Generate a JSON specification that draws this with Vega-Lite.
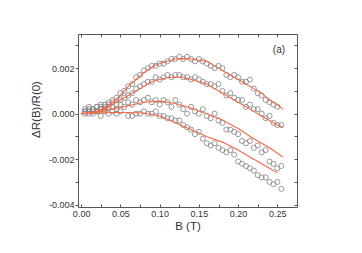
{
  "$schema": "https://vega.github.io/schema/vega-lite/v6.json",
  "width": 219,
  "height": 173,
  "autosize": "none",
  "padding": {"left": 78, "top": 34, "right": 65, "bottom": 46},
  "background": "white",
  "config": {
    "view": {"stroke": "#555", "strokeWidth": 1},
    "font": "Liberation Sans",
    "axis": {"grid": false, "domain": false, "labelFont": "Liberation Sans", "titleFont": "Liberation Sans", "labelColor": "#333", "titleColor": "#333", "tickColor": "#555", "labelFontSize": 9, "titleFontSize": 11.5, "titleFontWeight": "normal"}
  },
  "datasets": {
    "fit": [
      {"B": 0, "dR": 0, "s": "a"}, {"B": 0.01, "dR": 0.00003, "s": "a"}, {"B": 0.02, "dR": 0.0001, "s": "a"}, {"B": 0.03, "dR": 0.00025, "s": "a"}, {"B": 0.04, "dR": 0.0005, "s": "a"}, {"B": 0.05, "dR": 0.0008, "s": "a"}, {"B": 0.06, "dR": 0.0012, "s": "a"}, {"B": 0.07, "dR": 0.0015, "s": "a"}, {"B": 0.08, "dR": 0.0018, "s": "a"}, {"B": 0.09, "dR": 0.00205, "s": "a"}, {"B": 0.1, "dR": 0.0022, "s": "a"}, {"B": 0.11, "dR": 0.0023, "s": "a"}, {"B": 0.12, "dR": 0.0024, "s": "a"}, {"B": 0.13, "dR": 0.00242, "s": "a"}, {"B": 0.14, "dR": 0.0024, "s": "a"}, {"B": 0.15, "dR": 0.00235, "s": "a"}, {"B": 0.16, "dR": 0.0023, "s": "a"}, {"B": 0.17, "dR": 0.0021, "s": "a"}, {"B": 0.18, "dR": 0.0019, "s": "a"}, {"B": 0.19, "dR": 0.0017, "s": "a"}, {"B": 0.2, "dR": 0.0015, "s": "a"}, {"B": 0.21, "dR": 0.0013, "s": "a"}, {"B": 0.22, "dR": 0.0011, "s": "a"}, {"B": 0.23, "dR": 0.0009, "s": "a"}, {"B": 0.24, "dR": 0.0006, "s": "a"}, {"B": 0.25, "dR": 0.0004, "s": "a"}, {"B": 0.257, "dR": 0.0002, "s": "a"},
      {"B": 0, "dR": 0, "s": "b"}, {"B": 0.01, "dR": 0.00002, "s": "b"}, {"B": 0.02, "dR": 0.0001, "s": "b"}, {"B": 0.03, "dR": 0.0002, "s": "b"}, {"B": 0.04, "dR": 0.0004, "s": "b"}, {"B": 0.05, "dR": 0.0006, "s": "b"}, {"B": 0.06, "dR": 0.0008, "s": "b"}, {"B": 0.07, "dR": 0.001, "s": "b"}, {"B": 0.08, "dR": 0.0012, "s": "b"}, {"B": 0.09, "dR": 0.0014, "s": "b"}, {"B": 0.1, "dR": 0.0015, "s": "b"}, {"B": 0.11, "dR": 0.00158, "s": "b"}, {"B": 0.12, "dR": 0.0016, "s": "b"}, {"B": 0.13, "dR": 0.0016, "s": "b"}, {"B": 0.14, "dR": 0.0015, "s": "b"}, {"B": 0.15, "dR": 0.0014, "s": "b"}, {"B": 0.16, "dR": 0.0013, "s": "b"}, {"B": 0.17, "dR": 0.0011, "s": "b"}, {"B": 0.18, "dR": 0.0009, "s": "b"}, {"B": 0.19, "dR": 0.0007, "s": "b"}, {"B": 0.2, "dR": 0.0005, "s": "b"}, {"B": 0.21, "dR": 0.0003, "s": "b"}, {"B": 0.22, "dR": 0.0001, "s": "b"}, {"B": 0.23, "dR": -0.0001, "s": "b"}, {"B": 0.24, "dR": -0.0003, "s": "b"}, {"B": 0.25, "dR": -0.0005, "s": "b"}, {"B": 0.257, "dR": -0.0006, "s": "b"},
      {"B": 0, "dR": 0, "s": "c"}, {"B": 0.02, "dR": 0.00005, "s": "c"}, {"B": 0.04, "dR": 0.0002, "s": "c"}, {"B": 0.06, "dR": 0.00035, "s": "c"}, {"B": 0.08, "dR": 0.0005, "s": "c"}, {"B": 0.1, "dR": 0.00055, "s": "c"}, {"B": 0.12, "dR": 0.00045, "s": "c"}, {"B": 0.14, "dR": 0.00025, "s": "c"}, {"B": 0.16, "dR": 0.0, "s": "c"}, {"B": 0.18, "dR": -0.00028, "s": "c"}, {"B": 0.2, "dR": -0.00065, "s": "c"}, {"B": 0.22, "dR": -0.0011, "s": "c"}, {"B": 0.24, "dR": -0.0015, "s": "c"}, {"B": 0.257, "dR": -0.0019, "s": "c"},
      {"B": 0, "dR": 0, "s": "d"}, {"B": 0.02, "dR": 0.00003, "s": "d"}, {"B": 0.04, "dR": 0.00005, "s": "d"}, {"B": 0.06, "dR": 0.00005, "s": "d"}, {"B": 0.08, "dR": 0.00003, "s": "d"}, {"B": 0.1, "dR": -0.0001, "s": "d"}, {"B": 0.12, "dR": -0.0004, "s": "d"}, {"B": 0.14, "dR": -0.0007, "s": "d"}, {"B": 0.16, "dR": -0.001, "s": "d"}, {"B": 0.18, "dR": -0.00125, "s": "d"}, {"B": 0.2, "dR": -0.0016, "s": "d"}, {"B": 0.22, "dR": -0.002, "s": "d"}, {"B": 0.24, "dR": -0.0024, "s": "d"}, {"B": 0.25, "dR": -0.0026, "s": "d"}
    ],
    "pts": [
      {"B": 0.005, "dR": 0.0002, "s": "a"}, {"B": 0.01, "dR": 0.0003, "s": "a"}, {"B": 0.015, "dR": 0.0002, "s": "a"}, {"B": 0.02, "dR": 0.0003, "s": "a"}, {"B": 0.025, "dR": 0.0004, "s": "a"}, {"B": 0.03, "dR": 0.0003, "s": "a"}, {"B": 0.035, "dR": 0.0005, "s": "a"}, {"B": 0.04, "dR": 0.0006, "s": "a"}, {"B": 0.045, "dR": 0.0007, "s": "a"}, {"B": 0.05, "dR": 0.0009, "s": "a"}, {"B": 0.055, "dR": 0.001, "s": "a"}, {"B": 0.06, "dR": 0.0012, "s": "a"}, {"B": 0.065, "dR": 0.0013, "s": "a"}, {"B": 0.07, "dR": 0.0016, "s": "a"}, {"B": 0.075, "dR": 0.0017, "s": "a"}, {"B": 0.08, "dR": 0.0019, "s": "a"}, {"B": 0.085, "dR": 0.002, "s": "a"}, {"B": 0.09, "dR": 0.0021, "s": "a"}, {"B": 0.095, "dR": 0.0021, "s": "a"}, {"B": 0.1, "dR": 0.0022, "s": "a"}, {"B": 0.105, "dR": 0.0022, "s": "a"}, {"B": 0.11, "dR": 0.0023, "s": "a"}, {"B": 0.115, "dR": 0.0024, "s": "a"}, {"B": 0.12, "dR": 0.0024, "s": "a"}, {"B": 0.125, "dR": 0.0025, "s": "a"}, {"B": 0.13, "dR": 0.0024, "s": "a"}, {"B": 0.135, "dR": 0.0025, "s": "a"}, {"B": 0.14, "dR": 0.0024, "s": "a"}, {"B": 0.145, "dR": 0.0023, "s": "a"}, {"B": 0.15, "dR": 0.0024, "s": "a"}, {"B": 0.155, "dR": 0.0023, "s": "a"}, {"B": 0.16, "dR": 0.0022, "s": "a"}, {"B": 0.165, "dR": 0.0021, "s": "a"}, {"B": 0.17, "dR": 0.002, "s": "a"}, {"B": 0.175, "dR": 0.0021, "s": "a"}, {"B": 0.18, "dR": 0.002, "s": "a"}, {"B": 0.185, "dR": 0.0017, "s": "a"}, {"B": 0.19, "dR": 0.0016, "s": "a"}, {"B": 0.195, "dR": 0.0017, "s": "a"}, {"B": 0.2, "dR": 0.0016, "s": "a"}, {"B": 0.205, "dR": 0.0014, "s": "a"}, {"B": 0.21, "dR": 0.0014, "s": "a"}, {"B": 0.215, "dR": 0.0015, "s": "a"}, {"B": 0.22, "dR": 0.0011, "s": "a"}, {"B": 0.225, "dR": 0.0009, "s": "a"}, {"B": 0.23, "dR": 0.0008, "s": "a"}, {"B": 0.235, "dR": 0.0006, "s": "a"}, {"B": 0.24, "dR": 0.0005, "s": "a"}, {"B": 0.245, "dR": 0.0004, "s": "a"}, {"B": 0.25, "dR": 0.0003, "s": "a"},
      {"B": 0.005, "dR": 0.0001, "s": "b"}, {"B": 0.01, "dR": 0.0002, "s": "b"}, {"B": 0.015, "dR": 0.0001, "s": "b"}, {"B": 0.02, "dR": 0.0003, "s": "b"}, {"B": 0.025, "dR": 0.0002, "s": "b"}, {"B": 0.03, "dR": 0.0004, "s": "b"}, {"B": 0.035, "dR": 0.0003, "s": "b"}, {"B": 0.04, "dR": 0.0005, "s": "b"}, {"B": 0.045, "dR": 0.0004, "s": "b"}, {"B": 0.05, "dR": 0.0006, "s": "b"}, {"B": 0.055, "dR": 0.0007, "s": "b"}, {"B": 0.06, "dR": 0.0008, "s": "b"}, {"B": 0.065, "dR": 0.0009, "s": "b"}, {"B": 0.07, "dR": 0.0011, "s": "b"}, {"B": 0.075, "dR": 0.0012, "s": "b"}, {"B": 0.08, "dR": 0.0013, "s": "b"}, {"B": 0.085, "dR": 0.0014, "s": "b"}, {"B": 0.09, "dR": 0.0014, "s": "b"}, {"B": 0.095, "dR": 0.0016, "s": "b"}, {"B": 0.1, "dR": 0.0015, "s": "b"}, {"B": 0.105, "dR": 0.0016, "s": "b"}, {"B": 0.11, "dR": 0.0017, "s": "b"}, {"B": 0.115, "dR": 0.0016, "s": "b"}, {"B": 0.12, "dR": 0.0017, "s": "b"}, {"B": 0.125, "dR": 0.0017, "s": "b"}, {"B": 0.13, "dR": 0.0016, "s": "b"}, {"B": 0.135, "dR": 0.0016, "s": "b"}, {"B": 0.14, "dR": 0.0015, "s": "b"}, {"B": 0.145, "dR": 0.0016, "s": "b"}, {"B": 0.15, "dR": 0.0015, "s": "b"}, {"B": 0.155, "dR": 0.0014, "s": "b"}, {"B": 0.16, "dR": 0.0013, "s": "b"}, {"B": 0.165, "dR": 0.0013, "s": "b"}, {"B": 0.17, "dR": 0.0012, "s": "b"}, {"B": 0.175, "dR": 0.0013, "s": "b"}, {"B": 0.18, "dR": 0.001, "s": "b"}, {"B": 0.185, "dR": 0.0008, "s": "b"}, {"B": 0.19, "dR": 0.0009, "s": "b"}, {"B": 0.195, "dR": 0.0007, "s": "b"}, {"B": 0.2, "dR": 0.0006, "s": "b"}, {"B": 0.205, "dR": 0.0006, "s": "b"}, {"B": 0.21, "dR": 0.0003, "s": "b"}, {"B": 0.215, "dR": 0.0004, "s": "b"}, {"B": 0.22, "dR": 0.0002, "s": "b"}, {"B": 0.225, "dR": 0.0002, "s": "b"}, {"B": 0.23, "dR": 0.0, "s": "b"}, {"B": 0.235, "dR": -0.0002, "s": "b"}, {"B": 0.24, "dR": -0.0001, "s": "b"}, {"B": 0.245, "dR": -0.0004, "s": "b"}, {"B": 0.25, "dR": -0.0005, "s": "b"}, {"B": 0.255, "dR": -0.0005, "s": "b"},
      {"B": 0.005, "dR": 0.0001, "s": "c"}, {"B": 0.01, "dR": 0.0, "s": "c"}, {"B": 0.015, "dR": 0.0002, "s": "c"}, {"B": 0.02, "dR": 0.0001, "s": "c"}, {"B": 0.025, "dR": 0.0003, "s": "c"}, {"B": 0.03, "dR": 0.0002, "s": "c"}, {"B": 0.035, "dR": 0.0004, "s": "c"}, {"B": 0.04, "dR": 0.0003, "s": "c"}, {"B": 0.045, "dR": 0.0002, "s": "c"}, {"B": 0.05, "dR": 0.0004, "s": "c"}, {"B": 0.055, "dR": 0.0003, "s": "c"}, {"B": 0.06, "dR": 0.0005, "s": "c"}, {"B": 0.065, "dR": 0.0004, "s": "c"}, {"B": 0.07, "dR": 0.0006, "s": "c"}, {"B": 0.075, "dR": 0.0005, "s": "c"}, {"B": 0.08, "dR": 0.0006, "s": "c"}, {"B": 0.085, "dR": 0.0007, "s": "c"}, {"B": 0.09, "dR": 0.0005, "s": "c"}, {"B": 0.095, "dR": 0.0006, "s": "c"}, {"B": 0.1, "dR": 0.0004, "s": "c"}, {"B": 0.105, "dR": 0.0006, "s": "c"}, {"B": 0.11, "dR": 0.0005, "s": "c"}, {"B": 0.115, "dR": 0.0003, "s": "c"}, {"B": 0.12, "dR": 0.0006, "s": "c"}, {"B": 0.125, "dR": 0.0004, "s": "c"}, {"B": 0.13, "dR": 0.0002, "s": "c"}, {"B": 0.135, "dR": 0.0, "s": "c"}, {"B": 0.14, "dR": 0.0003, "s": "c"}, {"B": 0.145, "dR": 0.0001, "s": "c"}, {"B": 0.15, "dR": 0.0, "s": "c"}, {"B": 0.155, "dR": 0.0002, "s": "c"}, {"B": 0.16, "dR": -0.0001, "s": "c"}, {"B": 0.165, "dR": -0.0002, "s": "c"}, {"B": 0.17, "dR": 0.0, "s": "c"}, {"B": 0.175, "dR": -0.0003, "s": "c"}, {"B": 0.18, "dR": -0.0004, "s": "c"}, {"B": 0.185, "dR": -0.0007, "s": "c"}, {"B": 0.19, "dR": -0.0007, "s": "c"}, {"B": 0.195, "dR": -0.0008, "s": "c"}, {"B": 0.2, "dR": -0.0009, "s": "c"}, {"B": 0.205, "dR": -0.0012, "s": "c"}, {"B": 0.21, "dR": -0.0013, "s": "c"}, {"B": 0.215, "dR": -0.0012, "s": "c"}, {"B": 0.22, "dR": -0.0015, "s": "c"}, {"B": 0.225, "dR": -0.0014, "s": "c"}, {"B": 0.23, "dR": -0.0017, "s": "c"}, {"B": 0.235, "dR": -0.0016, "s": "c"}, {"B": 0.24, "dR": -0.0021, "s": "c"}, {"B": 0.245, "dR": -0.0022, "s": "c"}, {"B": 0.25, "dR": -0.0024, "s": "c"}, {"B": 0.255, "dR": -0.0023, "s": "c"},
      {"B": 0.005, "dR": 0.0, "s": "d"}, {"B": 0.01, "dR": 0.0001, "s": "d"}, {"B": 0.015, "dR": 0.0, "s": "d"}, {"B": 0.02, "dR": 0.0001, "s": "d"}, {"B": 0.025, "dR": -0.0001, "s": "d"}, {"B": 0.03, "dR": 0.0001, "s": "d"}, {"B": 0.035, "dR": 0.0, "s": "d"}, {"B": 0.04, "dR": 0.0001, "s": "d"}, {"B": 0.045, "dR": 0.0, "s": "d"}, {"B": 0.05, "dR": 0.0001, "s": "d"}, {"B": 0.06, "dR": -0.0001, "s": "d"}, {"B": 0.065, "dR": -0.0001, "s": "d"}, {"B": 0.07, "dR": 0.0, "s": "d"}, {"B": 0.075, "dR": 0.0, "s": "d"}, {"B": 0.08, "dR": 0.0001, "s": "d"}, {"B": 0.085, "dR": 0.0, "s": "d"}, {"B": 0.09, "dR": 0.0, "s": "d"}, {"B": 0.095, "dR": 0.0001, "s": "d"}, {"B": 0.1, "dR": -0.0001, "s": "d"}, {"B": 0.105, "dR": -0.0001, "s": "d"}, {"B": 0.11, "dR": -0.0002, "s": "d"}, {"B": 0.115, "dR": -0.0002, "s": "d"}, {"B": 0.12, "dR": -0.0003, "s": "d"}, {"B": 0.125, "dR": -0.0003, "s": "d"}, {"B": 0.13, "dR": -0.0005, "s": "d"}, {"B": 0.135, "dR": -0.0006, "s": "d"}, {"B": 0.14, "dR": -0.0007, "s": "d"}, {"B": 0.145, "dR": -0.0009, "s": "d"}, {"B": 0.15, "dR": -0.0008, "s": "d"}, {"B": 0.155, "dR": -0.0011, "s": "d"}, {"B": 0.16, "dR": -0.0013, "s": "d"}, {"B": 0.165, "dR": -0.0014, "s": "d"}, {"B": 0.17, "dR": -0.0013, "s": "d"}, {"B": 0.175, "dR": -0.0015, "s": "d"}, {"B": 0.18, "dR": -0.0016, "s": "d"}, {"B": 0.185, "dR": -0.0017, "s": "d"}, {"B": 0.19, "dR": -0.0016, "s": "d"}, {"B": 0.195, "dR": -0.0018, "s": "d"}, {"B": 0.2, "dR": -0.0021, "s": "d"}, {"B": 0.205, "dR": -0.0022, "s": "d"}, {"B": 0.21, "dR": -0.0023, "s": "d"}, {"B": 0.215, "dR": -0.0024, "s": "d"}, {"B": 0.22, "dR": -0.0025, "s": "d"}, {"B": 0.225, "dR": -0.0027, "s": "d"}, {"B": 0.23, "dR": -0.0028, "s": "d"}, {"B": 0.235, "dR": -0.0028, "s": "d"}, {"B": 0.24, "dR": -0.003, "s": "d"}, {"B": 0.245, "dR": -0.0031, "s": "d"}, {"B": 0.25, "dR": -0.003, "s": "d"}, {"B": 0.255, "dR": -0.0033, "s": "d"}
    ],
    "lab": [{"B": 0.252, "dR": 0.0028, "t": "(a)"}]
  },
  "layer": [
    {
      "data": {"name": "pts"},
      "mark": {"type": "point", "shape": "circle", "filled": false, "stroke": "#808080", "strokeWidth": 0.8, "size": 26, "opacity": 1},
      "encoding": {
        "x": {"field": "B", "type": "quantitative", "scale": {"domain": [-0.004, 0.275], "nice": false, "zero": false},
              "axis": {"orient": "bottom", "title": "B (T)", "values": [0, 0.025, 0.05, 0.075, 0.1, 0.125, 0.15, 0.175, 0.2, 0.225, 0.25],
                       "labelExpr": "abs(datum.value*20 - round(datum.value*20)) < 0.01 ? format(datum.value, '.2f') : ''",
                       "tickSize": -3, "labelPadding": 5, "titlePadding": 2}},
        "y": {"field": "dR", "type": "quantitative", "scale": {"domain": [-0.0041, 0.0035], "nice": false, "zero": false},
              "axis": {"orient": "left", "title": "ΔR(B)/R(0)", "values": [-0.004, -0.003, -0.002, -0.001, 0, 0.001, 0.002, 0.003],
                       "labelExpr": "abs(datum.value*500 - round(datum.value*500)) < 0.01 ? replace(format(datum.value, '.3f'), '−', '-') : ''",
                       "tickSize": 3, "labelPadding": 1, "titleX": -37, "titleY": 75}}
      }
    },
    {
      "data": {"name": "fit"},
      "mark": {"type": "line", "color": "#f26a45", "strokeWidth": 1.1},
      "encoding": {
        "x": {"field": "B", "type": "quantitative", "axis": {"orient": "top", "labels": false, "title": null, "tickSize": -3, "values": [0, 0.025, 0.05, 0.075, 0.1, 0.125, 0.15, 0.175, 0.2, 0.225, 0.25]}},
        "y": {"field": "dR", "type": "quantitative", "axis": {"orient": "right", "labels": false, "title": null, "tickSize": -3, "values": [-0.004, -0.003, -0.002, -0.001, 0, 0.001, 0.002, 0.003]}},
        "detail": {"field": "s"}
      }
    },
    {
      "data": {"name": "lab"},
      "mark": {"type": "text", "fontSize": 10, "color": "#333", "font": "Liberation Sans"},
      "encoding": {
        "x": {"field": "B", "type": "quantitative", "axis": null},
        "y": {"field": "dR", "type": "quantitative", "axis": null},
        "text": {"field": "t"}
      }
    }
  ],
  "resolve": {"axis": {"x": "independent", "y": "independent"}}
}
